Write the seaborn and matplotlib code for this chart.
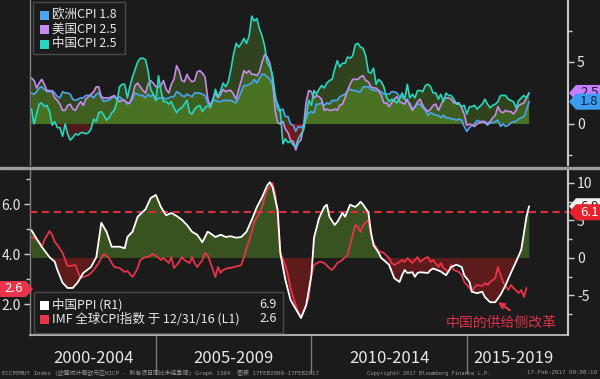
import numpy as np
import pandas as pd
import matplotlib
matplotlib.use("Agg")
import matplotlib.pyplot as plt
import matplotlib.dates as mdates
import seaborn as sns
from matplotlib.patches import Polygon, Rectangle
from matplotlib.lines import Line2D
from matplotlib.transforms import IdentityTransform

# ---------------- data (monthly, Jan 2001 - Jan 2017) ----------------
series_names = ["欧洲CPI", "美国CPI", "中国CPI"]
series_last = [1.8, 2.5, 2.5]

euro_cpi = [
    2.5, 2.4, 2.6, 2.9, 3.0, 2.8, 2.6, 2.6, 2.7, 2.5, 2.2, 2.1,
    2.6, 2.5, 2.5, 2.4, 2.0, 1.9, 2.0, 2.1, 2.1, 2.3, 2.3, 2.3,
    2.1, 2.4, 2.5, 2.1, 1.8, 1.9, 1.9, 2.1, 2.2, 2.0, 2.2, 2.0,
    1.9, 1.6, 1.7, 2.0, 2.5, 2.4, 2.3, 2.3, 2.1, 2.4, 2.2, 2.4,
    1.9, 2.1, 2.1, 2.1, 2.0, 2.1, 2.2, 2.2, 2.6, 2.5, 2.3, 2.2,
    2.4, 2.3, 2.2, 2.5, 2.5, 2.5, 2.4, 2.3, 1.7, 1.6, 1.9, 1.9,
    1.8, 1.8, 1.9, 1.9, 1.9, 1.9, 1.8, 1.7, 2.1, 2.6, 3.1, 3.1,
    3.2, 3.3, 3.6, 3.3, 3.7, 4.0, 4.0, 3.8, 3.6, 3.2, 2.1, 1.6,
    1.1, 1.2, 0.6, 0.6, 0.0, -0.1, -0.6, -0.2, -0.3, -0.1, 0.5, 0.9,
    1.0, 0.9, 1.6, 1.6, 1.7, 1.5, 1.7, 1.6, 1.9, 1.9, 1.9, 2.2,
    2.3, 2.4, 2.7, 2.8, 2.7, 2.7, 2.6, 2.6, 3.0, 3.0, 3.0, 2.8,
    2.7, 2.7, 2.7, 2.6, 2.4, 2.4, 2.4, 2.6, 2.6, 2.5, 2.2, 2.2,
    2.0, 1.8, 1.7, 1.2, 1.4, 1.6, 1.6, 1.3, 1.1, 0.7, 0.9, 0.8,
    0.7, 0.7, 0.5, 0.7, 0.5, 0.5, 0.4, 0.4, 0.3, 0.4, 0.3, -0.2,
    -0.6, -0.3, -0.1, 0.0, 0.3, 0.2, 0.2, 0.1, -0.1, 0.1, 0.1, 0.2,
    0.3, -0.2, 0.0, -0.2, -0.1, 0.1, 0.2, 0.2, 0.4, 0.5, 0.6, 1.1,
    1.8,
]
us_cpi = [
    3.7, 3.5, 2.9, 3.3, 3.6, 3.2, 2.7, 2.7, 2.6, 2.1, 1.9, 1.6,
    1.1, 1.1, 1.5, 1.6, 1.2, 1.1, 1.5, 1.8, 1.5, 2.0, 2.2, 2.4,
    2.6, 3.0, 3.0, 2.2, 2.1, 2.1, 2.1, 2.2, 2.3, 2.0, 1.8, 1.9,
    1.9, 1.7, 1.7, 2.3, 3.1, 3.3, 3.0, 2.7, 2.5, 3.2, 3.5, 3.3,
    3.0, 3.0, 3.1, 3.5, 2.8, 2.5, 3.2, 3.6, 4.7, 4.3, 3.5, 3.4,
    4.0, 3.6, 3.4, 3.5, 4.2, 4.3, 4.1, 3.8, 2.1, 1.3, 2.0, 2.5,
    2.1, 2.4, 2.8, 2.6, 2.7, 2.7, 2.4, 2.0, 2.8, 3.5, 4.3, 4.1,
    4.3, 4.0, 4.0, 3.9, 4.2, 5.0, 5.6, 5.4, 4.9, 3.7, 1.1, 0.1,
    0.0, 0.2, -0.4, -0.7, -1.3, -1.4, -2.1, -1.5, -1.3, -0.2, 1.8, 2.7,
    2.6, 2.1, 2.3, 2.2, 2.0, 1.1, 1.2, 1.1, 1.1, 1.2, 1.1, 1.5,
    1.6, 2.1, 2.7, 3.2, 3.6, 3.6, 3.6, 3.8, 3.9, 3.5, 3.4, 3.0,
    2.9, 2.9, 2.7, 2.3, 1.7, 1.7, 1.4, 1.7, 2.0, 2.2, 1.8, 1.7,
    1.6, 2.0, 1.5, 1.1, 1.4, 1.8, 2.0, 1.5, 1.2, 1.0, 1.2, 1.5,
    1.6, 1.1, 1.5, 2.0, 2.1, 2.1, 2.0, 1.7, 1.7, 1.7, 1.3, 0.8,
    -0.1, 0.0, -0.1, -0.2, 0.0, 0.1, 0.2, 0.2, 0.0, 0.2, 0.5, 0.7,
    1.4, 1.0, 0.9, 1.1, 1.0, 1.0, 0.8, 1.1, 1.5, 1.6, 1.7, 2.1,
    2.5,
]
china_cpi = [
    1.2, 0.0, 0.8, 1.6, 1.7, 1.4, 1.5, 1.0, -0.1, 0.2, -0.3, -0.3,
    -1.0, 0.0, -0.8, -1.3, -1.1, -0.8, -0.9, -0.7, -0.7, -0.8, -0.7, -0.4,
    0.4, 0.2, 0.9, 1.0, 0.7, 0.3, 0.5, 0.9, 1.1, 1.8, 3.0, 3.2,
    3.2, 2.1, 3.0, 3.8, 4.4, 5.0, 5.3, 5.3, 5.2, 4.3, 2.8, 2.4,
    1.9, 3.9, 2.7, 1.8, 1.8, 1.6, 1.8, 1.3, 0.9, 1.2, 1.3, 1.6,
    1.9, 0.9, 0.8, 1.2, 1.4, 1.5, 1.0, 1.3, 1.5, 1.4, 1.9, 2.8,
    2.2, 2.7, 3.3, 3.0, 3.4, 4.4, 5.6, 6.5, 6.2, 6.5, 6.9, 6.5,
    7.1, 8.7, 8.3, 8.5, 7.7, 7.1, 6.3, 4.9, 4.6, 4.0, 2.4, 1.2,
    1.0, -1.6, -1.2, -1.5, -1.4, -1.7, -1.8, -1.2, -0.8, -0.5, 0.6, 1.9,
    1.5, 2.7, 2.4, 2.8, 3.1, 2.9, 3.3, 3.5, 3.6, 4.4, 5.1, 4.6,
    4.9, 4.9, 5.4, 5.3, 5.5, 6.4, 6.5, 6.2, 6.1, 5.5, 4.2, 4.1,
    4.5, 3.2, 3.6, 3.4, 3.0, 2.2, 1.8, 2.0, 1.9, 1.7, 2.0, 2.5,
    2.0, 3.2, 2.1, 2.4, 2.1, 2.7, 2.7, 2.6, 3.1, 3.2, 3.0, 2.5,
    2.5, 2.0, 2.4, 1.8, 2.5, 2.3, 2.3, 2.0, 1.6, 1.6, 1.4, 1.5,
    0.8, 1.4, 1.4, 1.5, 1.2, 1.4, 1.6, 2.0, 1.6, 1.3, 1.5, 1.6,
    1.8, 2.3, 2.3, 2.3, 2.0, 1.9, 1.8, 1.3, 1.9, 2.1, 2.3, 2.1,
    2.5,
]

# China PPI (right axis R1): months since Jan 2001 and values
ppi_month = [0, 1, 4, 7, 9, 10, 12, 14, 16, 18, 20, 23, 25, 27, 29, 31, 34, 36, 37, 39,
             41, 44, 46, 48, 50, 52, 54, 56, 58, 60, 62, 64, 66, 68, 69, 71, 73, 75, 77, 79,
             81, 83, 85, 87, 89, 91, 92, 93, 95, 96, 98, 100, 104, 106, 108, 109, 111, 113, 114, 115,
             117, 118, 120, 121, 123, 125, 126, 127, 128, 130, 131, 132, 134, 135, 138, 140, 142, 143, 144, 145,
             147, 148, 149, 150, 153, 154, 155, 158, 160, 162, 164, 166, 167, 169, 170, 172, 174, 175, 177, 179,
             181, 183, 185, 187, 189, 190, 191, 192]
china_ppi = [3.7, 3.1, 1.5, 0.1, -0.5, -1.6, -3.3, -4.0, -4.0, -3.2, -2.0, -1.2, 0.1, 4.7, 3.5, 1.5, 1.5, 1.3, 2.8, 3.5,
             5.5, 6.5, 8.0, 8.4, 6.8, 5.7, 6.0, 5.6, 5.1, 4.4, 3.5, 3.1, 2.1, 3.5, 3.3, 2.8, 3.1, 2.8, 2.9, 2.7,
             2.8, 3.5, 5.1, 6.8, 8.1, 9.7, 10.1, 9.5, 6.4, 0.7, -2.9, -5.6, -8.0, -6.3, -2.3, 2.7, 5.3, 6.8, 7.1, 5.5,
             4.4, 4.8, 6.0, 5.5, 7.1, 6.8, 7.1, 7.5, 7.1, 6.1, 3.5, 1.7, 0.7, 0.0, -0.9, -2.7, -3.2, -2.3, -1.6, -2.0,
             -1.9, -2.5, -2.0, -1.9, -2.0, -1.6, -1.4, -1.8, -2.3, -1.2, -0.9, -1.2, -2.3, -3.2, -4.5, -4.7, -4.5, -5.2, -5.9, -5.9,
             -4.9, -3.6, -2.0, -0.5, 1.1, 3.3, 5.5, 6.9]

# IMF global CPI (left axis L1): months since Jan 2001 and values
imf_month = [0, 1, 3, 4, 5, 7, 8, 9, 10, 12, 13, 14, 15, 17, 18, 19, 20, 22, 23, 24,
             26, 27, 28, 30, 31, 32, 34, 35, 36, 37, 39, 40, 41, 42, 44, 45, 46, 47, 49, 50,
             51, 53, 54, 55, 57, 58, 59, 61, 62, 63, 64, 66, 67, 68, 69, 71, 72, 73, 74, 76,
             77, 78, 80, 81, 82, 84, 85, 86, 88, 89, 90, 91, 93, 94, 95, 96, 98, 99, 100, 102,
             104, 105, 107, 108, 109, 111, 112, 113, 115, 116, 117, 118, 120, 121, 122, 123, 124, 125, 126, 127,
             128, 130, 131, 132, 134, 135, 136, 138, 139, 140, 142, 143, 144, 145, 147, 148, 149, 150, 152, 153,
             154, 155, 157, 158, 159, 161, 162, 163, 165, 166, 167, 169, 170, 171, 172, 174, 175, 176, 177, 179,
             180, 181, 182, 184, 185, 186, 188, 189, 190, 191]
imf_cpi = [4.68, 4.64, 4.48, 4.28, 4.56, 4.92, 4.76, 4.48, 4.36, 4.04, 3.76, 3.52, 3.52, 3.56, 3.28, 3.04, 3.08, 3.16, 3.24, 3.36,
           3.64, 3.84, 4.00, 3.84, 3.64, 3.48, 3.44, 3.36, 3.28, 3.32, 3.08, 3.24, 3.44, 3.76, 3.88, 3.88, 3.96, 4.00, 3.84, 3.76,
           3.84, 3.64, 3.88, 3.44, 3.68, 3.88, 3.76, 3.64, 3.88, 3.64, 3.48, 3.76, 4.04, 3.96, 3.68, 3.08, 3.48, 3.24, 3.36, 3.44,
           3.44, 3.48, 3.52, 3.56, 3.88, 4.56, 4.88, 5.28, 5.64, 5.88, 6.24, 6.56, 6.84, 6.44, 5.48, 4.04, 3.56, 3.16, 2.64, 1.96,
           1.44, 1.68, 2.24, 3.16, 3.56, 3.68, 3.68, 3.64, 3.44, 3.36, 3.48, 3.64, 3.76, 3.88, 3.96, 4.36, 4.76, 5.16, 5.08, 4.88,
           5.16, 5.36, 4.76, 4.44, 4.12, 4.08, 4.04, 3.84, 3.64, 3.56, 3.68, 3.76, 3.68, 3.84, 3.64, 3.76, 3.88, 3.68, 3.84, 3.88,
           3.68, 3.76, 3.48, 3.64, 3.44, 3.28, 3.56, 3.36, 3.28, 3.16, 2.88, 2.64, 2.48, 2.68, 2.76, 2.72, 2.84, 2.76, 2.88, 3.04,
           3.48, 3.16, 2.88, 2.56, 2.76, 2.64, 2.44, 2.56, 2.28, 2.64]

ppi_label = "中国PPI (R1)"
imf_label = "IMF 全球CPI指数 于 12/31/16 (L1)"
ppi_last = 6.9
imf_last = 2.6
ref_level = 6.1
period_labels = ["2000-2004", "2005-2009", "2010-2014", "2015-2019"]
period_bounds = [2005, 2010, 2015]
period_centers = ["2003-01-01", "2007-07-01", "2012-07-01", "2016-07-01"]
annotation_text = "中国的供给侧改革"

# ---------------- style ----------------
BG = "#1b1b1b"
RED = "#e8334a"
colors = ["#4aa6f0", "#c98af0", "#27d8c0"]
sns.set_theme(style="dark", rc={
    "axes.facecolor": BG, "figure.facecolor": BG, "savefig.facecolor": BG,
    "axes.grid": False, "text.color": "#e6e6e6",
    "xtick.color": "#cfcfcf", "ytick.color": "#cfcfcf",
})
plt.rcParams["font.family"] = ["Noto Sans CJK SC", "DejaVu Sans"]
plt.rcParams["axes.unicode_minus"] = False

W, H = 600, 379
fig = plt.figure(figsize=(6, 3.79), dpi=100)


def frect(l, t, r, b):
    return [l / W, 1 - b / H, (r - l) / W, (b - t) / H]


ax_top = fig.add_axes(frect(30, 0, 568, 165))
ax_l = fig.add_axes(frect(30, 170, 568, 335))
ax_r = ax_l.twinx()

# dates
monthly = pd.date_range("2001-01-01", periods=len(euro_cpi), freq="MS")


def m2d(ms):
    return pd.DatetimeIndex([pd.Timestamp(2001 + m // 12, m % 12 + 1, 1) for m in ms])


ppi_dates = m2d(ppi_month)
imf_dates = m2d(imf_month)

x0 = mdates.date2num(pd.Timestamp("2001-01-01")) - 17.6
x1 = x0 + 538 / 31.1 * 365.25

# ---------------- top panel ----------------
df_top = pd.DataFrame({
    "date": np.tile(monthly.values, 3),
    "series": np.repeat(series_names, len(monthly)),
    "value": euro_cpi + us_cpi + china_cpi,
})
for vals in (euro_cpi, us_cpi, china_cpi):
    v = np.array(vals)
    ax_top.fill_between(monthly, v, 0, where=v >= 0, interpolate=True,
                        color="#62a028", alpha=0.3, lw=0, zorder=1)
    ax_top.fill_between(monthly, v, 0, where=v < 0, interpolate=True,
                        color="#b01c1c", alpha=0.35, lw=0, zorder=1)
sns.lineplot(data=df_top, x="date", y="value", hue="series", hue_order=series_names,
             palette=dict(zip(series_names, colors)), ax=ax_top, legend=False,
             linewidth=1.2, zorder=3)
ax_top.set_xlim(x0, x1)
ax_top.set_ylim(-3.31, 10.0)
ax_top.set_xlabel("")
ax_top.set_ylabel("")
ax_top.set_xticks([])
ax_top.yaxis.tick_right()
ax_top.set_yticks([0, 5])
ax_top.set_yticklabels(["0", "5"])
ax_top.set_yticks([-2.5, 7.5], minor=True)

# ---------------- bottom panel ----------------
ppi = np.array(china_ppi)
ax_r.fill_between(ppi_dates, ppi, 0, where=ppi >= 0, interpolate=True,
                  color="#62a028", alpha=0.42, lw=0, zorder=1)
ax_r.fill_between(ppi_dates, ppi, 0, where=ppi < 0, interpolate=True,
                  color="#a01c1c", alpha=0.5, lw=0, zorder=1)
ax_r.axhline(ref_level, color="#d9303e", lw=1.5, ls=(0, (3.5, 2.2)), zorder=2)
sns.lineplot(x=imf_dates, y=imf_cpi, ax=ax_r, color=RED, linewidth=1.3,
             transform=ax_l.transData, zorder=3)
sns.lineplot(x=ppi_dates, y=china_ppi, ax=ax_r, color="white", linewidth=1.3, zorder=4)

ax_l.set_xlim(x0, x1)
ax_l.set_ylim(0.76, 7.36)
ax_r.set_ylim(-10.27, 11.73)
for a in (ax_l, ax_r):
    a.set_xlabel("")
    a.set_ylabel("")
ax_l.set_yticks([2, 4, 6])
ax_l.set_yticklabels(["2.0", "4.0", "6.0"])
ax_l.set_yticks([3, 5, 7], minor=True)
ax_r.set_yticks([-5, 0, 5, 10])
ax_r.set_yticklabels(["-5", "0", "5", "10"])
ax_r.set_yticks([-7.5, -2.5, 2.5, 7.5], minor=True)

year_ticks = [mdates.date2num(pd.Timestamp(f"{y}-01-01")) for y in range(2001, 2019)]
ax_l.set_xticks(year_ticks)
ax_l.set_xticklabels([])
ax_l.tick_params(axis="x", which="major", direction="inout", length=5, width=1, color="#bdbdbd")

for a in (ax_top, ax_l, ax_r):
    a.tick_params(axis="y", which="both", direction="out", color="#cfcfcf",
                  labelcolor="#e8e8e8", labelsize=10, width=1, pad=2.5)
    a.tick_params(axis="y", which="major", length=4)
    a.tick_params(axis="y", which="minor", length=3)
    for s in a.spines.values():
        s.set_visible(False)

ax_top.spines["left"].set_visible(True)
ax_top.spines["left"].set_color("#7d7d7d")
ax_top.spines["left"].set_linewidth(1)
ax_top.spines["right"].set_visible(True)
ax_top.spines["right"].set_color("#c8c8c8")
ax_top.spines["right"].set_linewidth(1.5)
ax_l.spines["left"].set_visible(True)
ax_l.spines["left"].set_color("#7d7d7d")
ax_l.spines["left"].set_linewidth(1)
ax_l.spines["bottom"].set_visible(True)
ax_l.spines["bottom"].set_color("#c8c8c8")
ax_l.spines["bottom"].set_linewidth(1.2)
ax_r.spines["right"].set_visible(True)
ax_r.spines["right"].set_color("#c8c8c8")
ax_r.spines["right"].set_linewidth(1.5)

# period band below the x axis
xt = ax_l.get_xaxis_transform()
for yb in period_bounds:
    xb = mdates.date2num(pd.Timestamp(f"{yb}-01-01"))
    ax_l.plot([xb, xb], [0, -0.23], transform=xt, color="#7a7a7a", lw=1, clip_on=False)
for lab, c in zip(period_labels, period_centers):
    ax_l.text(mdates.date2num(pd.Timestamp(c)), -0.14, lab, transform=xt,
              ha="center", va="center", fontsize=12, color="#e8e8e8", clip_on=False)

# separator between panels
fig.add_artist(Line2D([0, 1], [1 - 167.5 / H] * 2, transform=fig.transFigure,
                      color="#9c9c9c", lw=2.4, zorder=5))

# ---------------- value tags ----------------
ID = IdentityTransform()
zc = [10]


def right_tag(ax, val, fc, tc, text):
    y = ax.transData.transform((0, val))[1]
    h = 16
    xa, xb = 569, 576
    poly = Polygon([(xa, y), (xb, y + h / 2), (W, y + h / 2), (W, y - h / 2), (xb, y - h / 2)],
                   closed=True, fc=fc, ec="none", transform=ID, zorder=zc[0])
    fig.add_artist(poly)
    fig.text((xb + W) / 2 / W + 0.002, y / H, text, ha="center", va="center",
             color=tc, fontsize=9.5, zorder=zc[0] + 1)
    zc[0] += 2


def left_tag(ax, val, fc, tc, text):
    y = ax.transData.transform((0, val))[1]
    h = 16
    poly = Polygon([(0, y - h / 2), (26, y - h / 2), (33, y), (26, y + h / 2), (0, y + h / 2)],
                   closed=True, fc=fc, ec="none", transform=ID, zorder=zc[0])
    fig.add_artist(poly)
    fig.text(14 / W, y / H, text, ha="center", va="center", color=tc,
             fontsize=9.5, zorder=zc[0] + 1)
    zc[0] += 2


right_tag(ax_top, series_last[1], "#c77dff", "#1b1b2b", f"{series_last[1]}")
right_tag(ax_top, series_last[0], "#3d9cf0", "#0b2240", f"{series_last[0]}")
right_tag(ax_r, ppi_last, "#f2f2f2", "#1b1b1b", f"{ppi_last}")
right_tag(ax_r, ref_level, "#e8202e", "white", f"{ref_level}")
left_tag(ax_l, imf_last, "#e8334a", "white", f"{imf_last}")

# ---------------- legends ----------------
def box(l, t, r, b):
    fig.add_artist(Rectangle((l, H - b), r - l, b - t, transform=ID, fc=BG,
                             ec="#4a4a4a", lw=1, zorder=30))


def square(x, yc, color):
    fig.add_artist(Rectangle((x, H - yc - 4.5), 9, 9, transform=ID, fc=color,
                             ec="none", zorder=31))


box(33, 2, 125, 54)
for i, (name, c, last) in enumerate(zip(series_names, colors, series_last)):
    yc = 15 + 14.5 * i
    square(40, yc, c)
    fig.text(52 / W, 1 - yc / H, f"{name} {last}", ha="left", va="center",
             fontsize=9, color="#e8e8e8", zorder=32)

box(34, 292, 283, 333)
for yc, c, lab, val in [(305, "white", ppi_label, ppi_last), (319, RED, imf_label, imf_last)]:
    square(40, yc, c)
    fig.text(52 / W, 1 - yc / H, lab, ha="left", va="center", fontsize=9,
             color="#e8e8e8", zorder=32)
    fig.text(277 / W, 1 - yc / H, f"{val}", ha="right", va="center", fontsize=9,
             color="#e8e8e8", zorder=32)

# ---------------- annotation ----------------
ax_r.annotate("", xy=(mdates.date2num(pd.Timestamp("2016-01-01")), -5.9),
              xytext=(12, -8), textcoords="offset pixels",
              arrowprops=dict(arrowstyle="->", color=RED, lw=1.5, shrinkA=0, shrinkB=0,
                              mutation_scale=9), zorder=6)
fig.text(501 / W, 1 - 323 / H, annotation_text, ha="center", va="center",
         fontsize=10, color="#e0304a", zorder=12)

# ---------------- footer ----------------
mono = ["DejaVu Sans Mono", "Noto Sans CJK SC"]
fig.text(2 / W, 1 - 373 / H,
         "ECCPEMUY Index (欧盟统计局欧元区HICP - 所有项目同比未经季调) Graph 1304  图表 17FEB2000-17FEB2017",
         ha="left", va="center", fontsize=4.2, color="#9a9a9a", family=mono)
fig.text(367 / W, 1 - 373 / H, "Copyright© 2017 Bloomberg Finance L.P.",
         ha="left", va="center", fontsize=4.0, color="#9a9a9a", family=mono)
fig.text(597 / W, 1 - 373 / H, "17-Feb-2017 09:08:10",
         ha="right", va="center", fontsize=4.2, color="#9a9a9a", family=mono)

fig.savefig("out.png", dpi=100, facecolor=BG)
